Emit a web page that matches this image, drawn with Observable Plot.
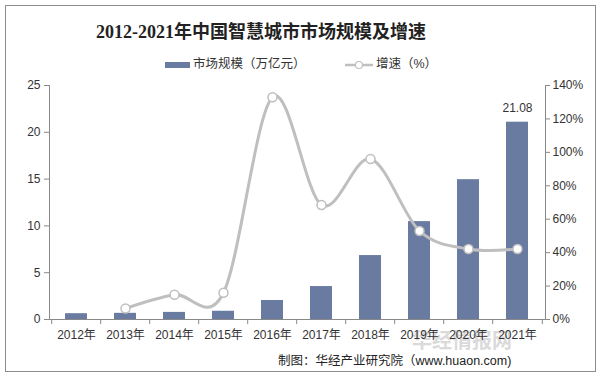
<!DOCTYPE html>
<html><head><meta charset="utf-8">
<script src="https://cdn.jsdelivr.net/npm/d3@7"></script>
<script src="https://cdn.jsdelivr.net/npm/@observablehq/plot@0.6"></script>
<style>
html,body{margin:0;padding:0;background:#fff;}
#wrap{position:relative;width:602px;height:382px;overflow:hidden;font-family:"Liberation Sans","Noto Sans CJK SC",sans-serif;}
#frame{position:absolute;left:5px;top:5px;width:591px;height:367px;border:1px solid #8c8c8c;box-sizing:border-box;}
#chart{position:absolute;left:0;top:0;}
.t{position:absolute;white-space:nowrap;}
#title{left:0;width:522px;text-align:center;top:17px;font-size:18px;font-weight:bold;color:#222;font-family:"Liberation Serif","Noto Sans CJK SC",serif;}
.leg{top:53px;font-size:12.5px;color:#333;}
#caption{left:278px;top:350px;font-size:12.5px;color:#222;}
#wm{left:412px;top:325px;font-size:20px;font-weight:bold;color:#bdbdbd;opacity:0.55;}
</style></head>
<body><div id="wrap">
<div class="t" id="wm">华经情报网</div>
<div id="chart"></div>
<div id="frame"></div>
<div class="t" id="title">2012-2021年中国智慧城市市场规模及增速</div>
<div class="t leg" style="left:165px;"><span style="display:inline-block;width:25px;height:6px;background:#6a7ba2;vertical-align:middle;margin-right:3px;"></span><span id="leg1"></span></div>
<div class="t leg" style="left:345px;"><svg width="28" height="10" style="vertical-align:middle;margin-right:3px;"><line x1="0" y1="5" x2="28" y2="5" stroke="#bfbfbf" stroke-width="2.5"/><circle cx="14" cy="5" r="3.5" fill="#fff" stroke="#bfbfbf" stroke-width="1.2"/></svg><span id="leg2"></span></div>
<div class="t" id="caption">制图：华经产业研究院（www.huaon.com)</div>
</div>
<script>
const years = ["2012年","2013年","2014年","2015年","2016年","2017年","2018年","2019年","2020年","2021年"];
const marketSize = [0.62,0.66,0.76,0.88,2.03,3.52,6.83,10.46,14.94,21.08];
const growthRate = [null,6.6,14.8,16.0,133.0,68.5,96.0,53.0,42.2,42.2];
const leftTicks = [0,5,10,15,20,25];
const rightTicks = [0,20,40,60,80,100,120,140];
const seriesNames = ["市场规模（万亿元）","增速（%）"];

document.getElementById("leg1").textContent = seriesNames[0];
document.getElementById("leg2").textContent = seriesNames[1];

const yMax = 25, gMax = 140;
const toY = g => g * yMax / gMax;
const data = years.map((y,i)=>({year:y, size:marketSize[i], g:growthRate[i]}));
const gData = data.filter(d=>d.g!=null);
const W = 602, H = 382, mL = 49, mR = 57;
const step = (W - mL - mR) / years.length;
const axisColor = "#898989";

const chart = Plot.plot({
  width: W, height: H,
  marginTop: 85, marginBottom: 63, marginLeft: mL, marginRight: mR,
  style: {fontFamily: '"Liberation Sans","Noto Sans CJK SC",sans-serif', fontSize: "12px", color: "#333", background: "transparent"},
  x: {domain: years, paddingInner: 0.55, paddingOuter: 0.275, axis: null},
  y: {domain: [0, yMax], axis: null},
  marks: [
    Plot.barY(data, {x: "year", y: "size", fill: "#6a7ba2"}),
    Plot.frame({anchor: "left", stroke: axisColor}),
    Plot.frame({anchor: "right", stroke: axisColor}),
    Plot.frame({anchor: "bottom", stroke: axisColor}),
    Plot.axisY(leftTicks, {anchor: "left", label: null, tickSize: 5, tickPadding: 4, stroke: axisColor, fill: "#333", fontSize: 12}),
    Plot.axisY(rightTicks.map(toY), {anchor: "right", label: null, tickSize: 4, tickPadding: 3, stroke: axisColor, fill: "#333", fontSize: 12, tickFormat: d => Math.round(d * gMax / yMax) + "%"}),
    Plot.axisX(years, {anchor: "bottom", label: null, tickSize: 0, tickPadding: 11, fill: "#333", fontSize: 12}),
    Plot.ruleX(years, {x: d => d, dx: -step/2, y1: 0, y2: -0.55, stroke: axisColor}),
    Plot.ruleX([years[years.length-1]], {x: d => d, dx: step/2, y1: 0, y2: -0.55, stroke: axisColor}),
    Plot.line(gData, {x: "year", y: d => toY(d.g), curve: "cardinal", stroke: "#bfbfbf", strokeWidth: 3}),
    Plot.dot(gData, {x: "year", y: d => toY(d.g), r: 4.5, fill: "#fff", stroke: "#bfbfbf", strokeWidth: 1.5}),
    Plot.text(data.slice(-1), {x: "year", y: "size", text: d => d.size.toFixed(2), dy: -14, fill: "#333", fontSize: 12})
  ]
});
document.getElementById("chart").appendChild(chart);
</script>
</body></html>
